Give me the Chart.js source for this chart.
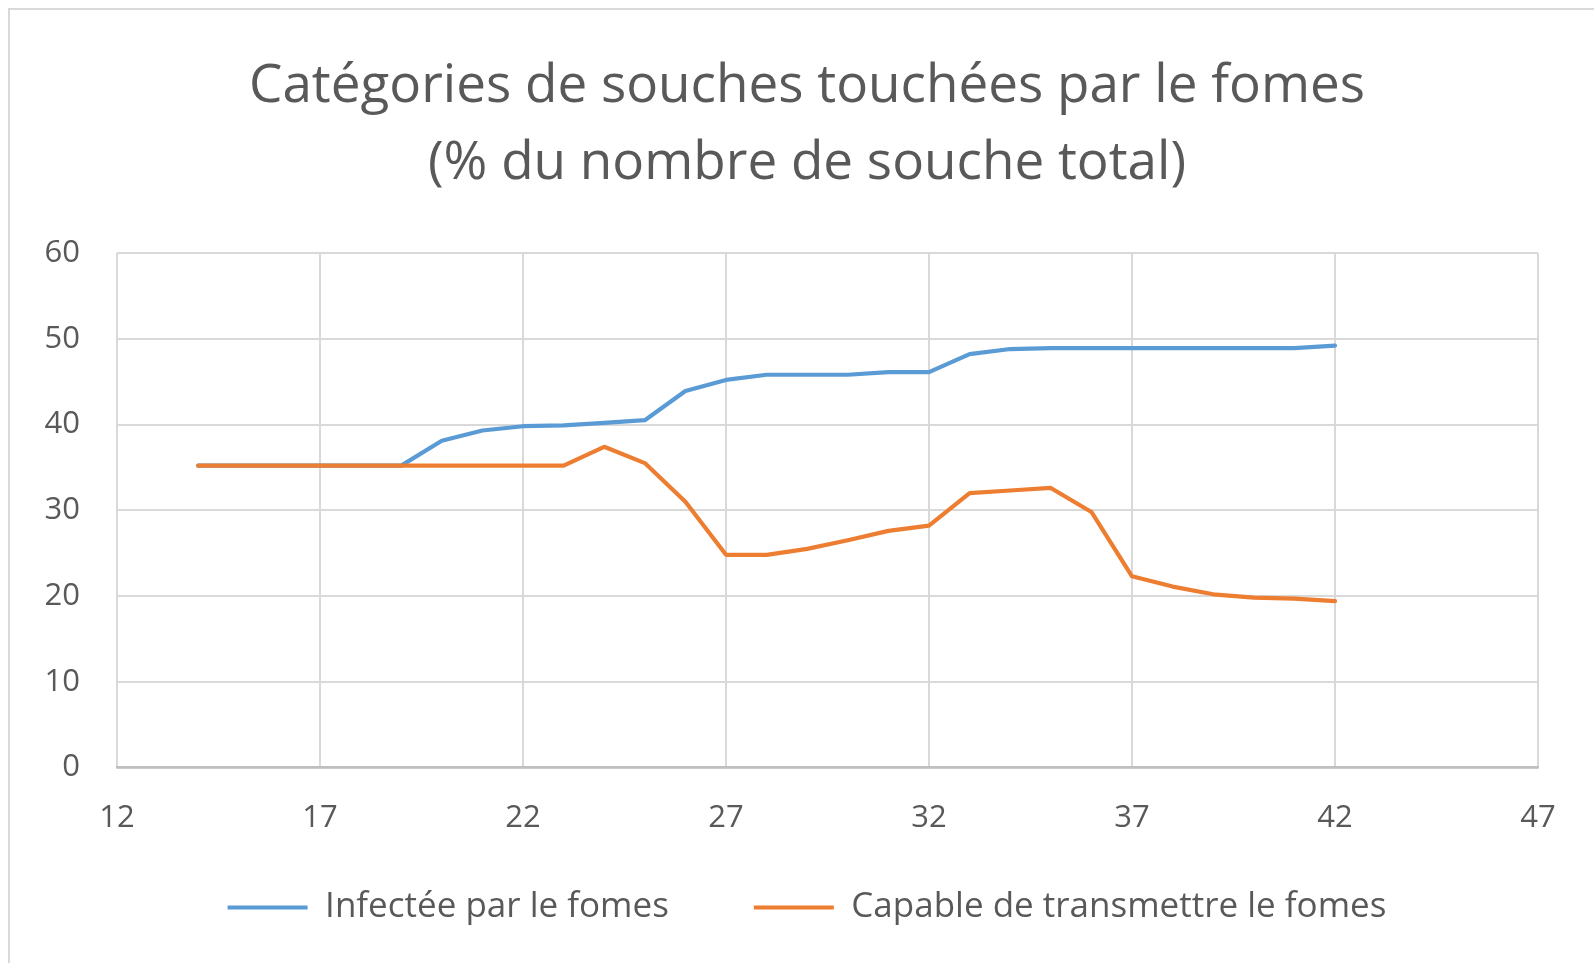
<!DOCTYPE html>
<html>
<head>
<meta charset="utf-8">
<script src="https://cdn.jsdelivr.net/npm/chart.js@4"></script>
<style>
  html, body { margin: 0; padding: 0; background: #fff; overflow: hidden; }
  #cadre {
    position: absolute; left: 8px; top: 8px; height: 1000px;
    border-left: 2px solid #d9d9d9; border-top: 2px solid #d9d9d9;
  }
  #graphe { display: block; }
</style>
</head>
<body>
<div id="cadre"><canvas id="graphe" width="1594" height="925"></canvas></div>
<script>
// âge du peuplement (années)
var ages = [14, 15, 16, 17, 18, 19, 20, 21, 22, 23, 24, 25, 26, 27, 28, 29, 30, 31, 32, 33, 34, 35, 36, 37, 38, 39, 40, 41, 42];
// % de souches infectées
var infectees = [35.2, 35.2, 35.2, 35.2, 35.2, 35.2, 38.1, 39.3, 39.8, 39.9, 40.2, 40.5, 43.9, 45.2, 45.8, 45.8, 45.8, 46.1, 46.1, 48.2, 48.8, 48.9, 48.9, 48.9, 48.9, 48.9, 48.9, 48.9, 49.2];
// % de souches capables de transmettre
var transmettrices = [35.2, 35.2, 35.2, 35.2, 35.2, 35.2, 35.2, 35.2, 35.2, 35.2, 37.4, 35.5, 31.0, 24.8, 24.8, 25.5, 26.5, 27.6, 28.2, 32.0, 32.3, 32.6, 29.8, 22.3, 21.1, 20.2, 19.8, 19.7, 19.4];
var nomsSeries = ['Infectée par le fomes', 'Capable de transmettre le fomes'];
var titre = ['Catégories de souches touchées par le fomes', '(% du nombre de souche total)'];

var gris = '#595959';
var police = '"Open Sans", "Noto Sans", sans-serif';

function points(ys) {
  return ages.map(function (a, i) { return { x: a, y: ys[i] }; });
}

// l'axe x est serré contre la légende : on rallonge sa zone pour ne pas couper les étiquettes
var etiquettesX = {
  id: 'etiquettesX',
  afterLayout: function (chart) { chart.scales.x.bottom = chart.height; }
};

var ctx = document.getElementById('graphe').getContext('2d');
new Chart(ctx, {
  type: 'line',
  data: {
    datasets: [
      {
        label: nomsSeries[0],
        data: points(infectees),
        borderColor: '#5b9bd5',
        backgroundColor: '#5b9bd5',
        order: 2
      },
      {
        label: nomsSeries[1],
        data: points(transmettrices),
        borderColor: '#ed7d31',
        backgroundColor: '#ed7d31',
        order: 1
      }
    ]
  },
  plugins: [etiquettesX],
  options: {
    responsive: false,
    animation: false,
    devicePixelRatio: 1,
    layout: { padding: 0 },
    elements: {
      line: { borderWidth: 4.2, tension: 0, borderCapStyle: 'round', borderJoinStyle: 'round' },
      point: { radius: 0, hoverRadius: 0 }
    },
    scales: {
      x: {
        type: 'linear',
        min: 12, max: 47,
        ticks: { stepSize: 5, padding: 32, color: gris, font: { family: police, size: 31 } },
        grid: { color: '#d9d9d9', lineWidth: 2, drawTicks: false },
        border: { color: '#bfbfbf', width: 2.5 },
        afterFit: function (s) { s.height = 37.5; }
      },
      y: {
        min: 0, max: 60,
        ticks: { stepSize: 10, padding: 37, color: gris, font: { family: police, size: 31 } },
        grid: { color: '#d9d9d9', lineWidth: 2, drawTicks: false },
        border: { display: false },
        afterFit: function (s) { s.width = 107; }
      },
      // marge à droite de la zone de tracé
      marge: {
        position: 'right',
        display: true,
        ticks: { display: false },
        grid: { display: false },
        border: { display: false },
        afterFit: function (s) { s.width = 66; }
      }
    },
    plugins: {
      title: {
        display: true,
        text: titre,
        color: gris,
        font: { family: police, size: 53, weight: 'normal', lineHeight: '77px' },
        padding: { top: 38, bottom: 51 }
      },
      legend: {
        position: 'bottom',
        labels: {
          boxWidth: 80,
          boxHeight: 4,
          padding: 85,
          color: gris,
          font: { family: police, size: 35 },
          sort: function (a, b) { return a.datasetIndex - b.datasetIndex; },
          generateLabels: function (chart) {
            return Chart.defaults.plugins.legend.labels.generateLabels(chart).map(function (l) {
              l.lineWidth = 0;
              return l;
            });
          }
        }
      },
      tooltip: { enabled: false }
    }
  }
});
</script>
</body>
</html>
